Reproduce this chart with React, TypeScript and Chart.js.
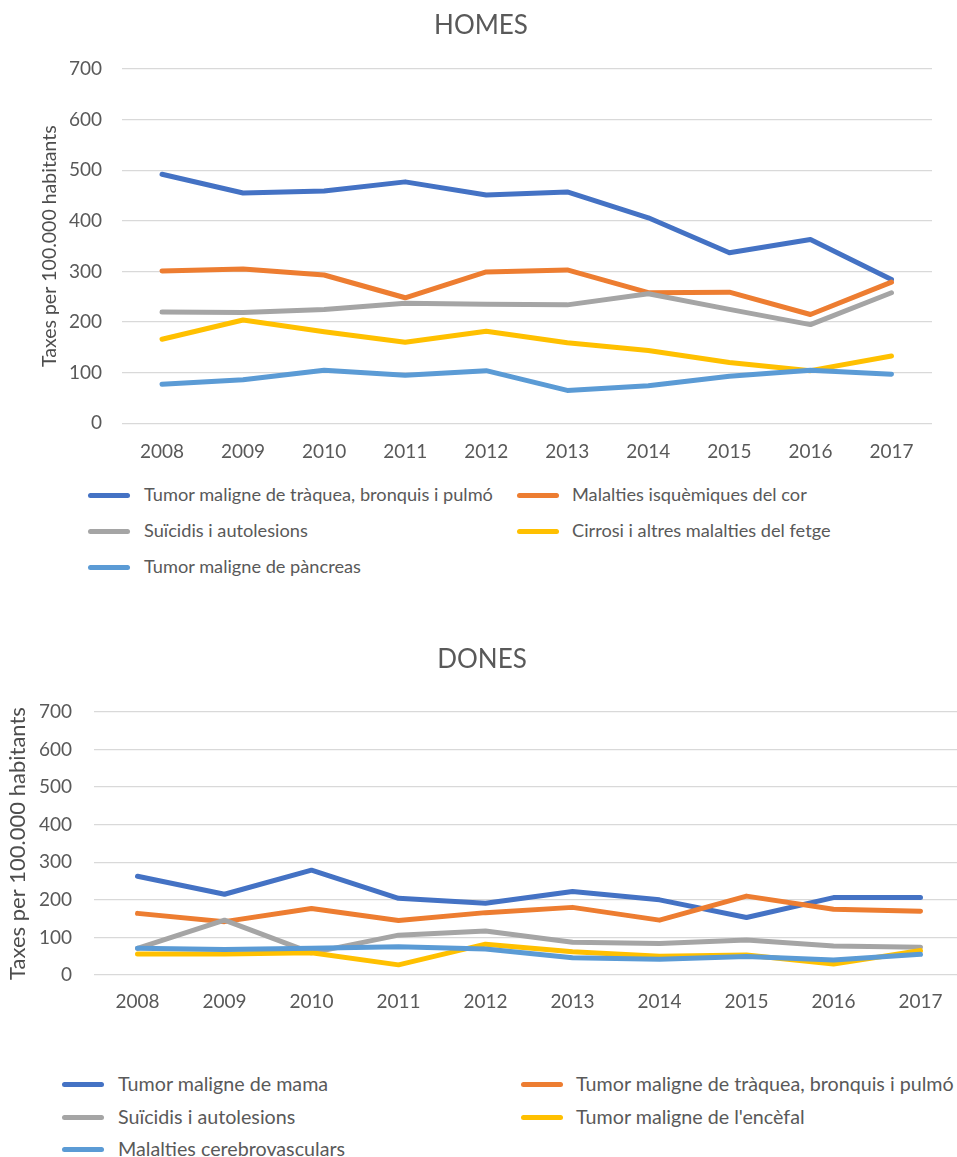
import { useEffect, useRef } from 'react';
import { Chart, registerables } from 'chart.js';

Chart.register(...registerables);

// Categories and axis
const years = ['2008', '2009', '2010', '2011', '2012', '2013', '2014', '2015', '2016', '2017'];
const yMin = 0;
const yMax = 700;
const yStep = 100;
const axisTitle = 'Taxes per 100.000 habitants';

const seriesColors = ['#4472C4', '#ED7D31', '#A5A5A5', '#FFC000', '#5B9BD5'];

// HOMES
const homesTitle = 'HOMES';
const homesLabels = [
  'Tumor maligne de tràquea, bronquis i pulmó',
  'Malalties isquèmiques del cor',
  'Suïcidis i autolesions',
  'Cirrosi i altres malalties del fetge',
  'Tumor maligne de pàncreas',
];
const homesPulmo = [492, 455, 459, 477, 451, 457, 406, 337, 363, 284];
const homesCor = [301, 305, 293, 248, 299, 303, 258, 259, 215, 279];
const homesSuicidis = [220, 219, 225, 237, 235, 234, 256, 225, 195, 258];
const homesCirrosi = [166, 204, 181, 160, 182, 159, 144, 120, 104, 133];
const homesPancrees = [77, 86, 105, 95, 104, 65, 74, 93, 105, 97];

// DONES
const donesTitle = 'DONES';
const donesLabels = [
  'Tumor maligne de mama',
  'Tumor maligne de tràquea, bronquis i pulmó',
  'Suïcidis i autolesions',
  "Tumor maligne de l'encèfal",
  'Malalties cerebrovasculars',
];
const donesMama = [263, 215, 279, 204, 191, 222, 200, 153, 206, 206];
const donesPulmo = [164, 142, 177, 145, 166, 180, 146, 210, 175, 170];
const donesSuicidis = [71, 146, 59, 106, 117, 87, 84, 93, 77, 74];
const donesEncefal = [56, 56, 59, 27, 82, 62, 50, 53, 29, 65];
const donesCerebro = [71, 68, 71, 75, 69, 46, 42, 49, 40, 55];

const FONT = 'Lato, "Open Sans", "DejaVu Sans", sans-serif';
const TEXT = '#595959';
const AXIS_TITLE = '#4d4d4d';
const GRID = '#D9D9D9';

type Frame = {
  left: number;
  top: number;
  width: number;
  height: number;
  titleSize: number;
  titlePadTop: number;
  titlePadBottom: number;
  padLeft: number;
  padRight: number;
  yWidth: number;
  xHeight: number;
  yTickPad: number;
  xTickPad: number;
  tickSize: number;
  axisTitleSize: number;
  axisTitlePad: number;
};

type LegendFrame = {
  rows: number[];
  markerX: number[];
  textX: number[];
  markerW: number;
  fontSize: number;
};

type PanelProps = {
  title: string;
  labels: string[];
  values: number[][];
  frame: Frame;
  legend: LegendFrame;
};

const LINE_W = 5;

function Panel({ title, labels, values, frame, legend }: PanelProps) {
  const ref = useRef<HTMLCanvasElement | null>(null);

  useEffect(() => {
    if (!ref.current) return;
    const n = values.length;
    const chart = new Chart(ref.current, {
      type: 'line',
      data: {
        labels: years,
        datasets: values.map((v, i) => ({
          label: labels[i],
          data: v,
          borderColor: seriesColors[i],
          backgroundColor: seriesColors[i],
          borderWidth: LINE_W,
          borderCapStyle: 'round',
          borderJoinStyle: 'round',
          pointRadius: 0,
          pointHoverRadius: 0,
          tension: 0,
          fill: false,
          // later series are painted on top of earlier ones
          order: n - i,
        })),
      },
      options: {
        animation: false,
        responsive: false,
        devicePixelRatio: 1,
        layout: { padding: { left: frame.padLeft, right: frame.padRight, top: 0, bottom: 0 } },
        plugins: {
          legend: { display: false },
          tooltip: { enabled: false },
          title: {
            display: true,
            text: title,
            color: TEXT,
            font: { family: FONT, size: frame.titleSize, weight: 'normal' },
            padding: { top: frame.titlePadTop, bottom: frame.titlePadBottom },
          },
        },
        scales: {
          x: {
            offset: true,
            grid: { display: false, drawTicks: false },
            border: { display: false },
            ticks: {
              color: TEXT,
              padding: frame.xTickPad,
              font: { family: FONT, size: frame.tickSize },
              maxRotation: 0,
              autoSkip: false,
            },
            afterFit: (scale: any) => {
              scale.height = frame.xHeight;
            },
          },
          y: {
            min: yMin,
            max: yMax,
            grid: { color: GRID, lineWidth: 1.3, drawTicks: false },
            border: { display: false },
            ticks: {
              stepSize: yStep,
              color: TEXT,
              padding: frame.yTickPad,
              font: { family: FONT, size: frame.tickSize },
            },
            title: {
              display: true,
              text: axisTitle,
              color: AXIS_TITLE,
              font: { family: FONT, size: frame.axisTitleSize },
              padding: { top: frame.axisTitlePad, bottom: 0 },
            },
            afterFit: (scale: any) => {
              scale.width = frame.yWidth;
            },
          },
        },
      },
    });
    return () => chart.destroy();
  }, [title, labels, values, frame]);

  return (
    <>
      <canvas
        ref={ref}
        width={frame.width}
        height={frame.height}
        style={{
          position: 'absolute',
          left: frame.left,
          top: frame.top,
          width: frame.width,
          height: frame.height,
        }}
      />
      {labels.map((label, i) => {
        const row = Math.floor(i / 2);
        const col = i % 2;
        const cy = legend.rows[row];
        const lh = legend.fontSize * 1.3;
        return (
          <div key={label}>
            <div
              style={{
                position: 'absolute',
                left: legend.markerX[col],
                top: cy - LINE_W / 2,
                width: legend.markerW,
                height: LINE_W,
                borderRadius: LINE_W / 2,
                background: seriesColors[i],
              }}
            />
            <div
              style={{
                position: 'absolute',
                left: legend.textX[col],
                top: cy - lh / 2,
                height: lh,
                lineHeight: `${lh}px`,
                fontFamily: FONT,
                fontSize: legend.fontSize,
                color: TEXT,
                whiteSpace: 'nowrap',
              }}
            >
              {label}
            </div>
          </div>
        );
      })}
    </>
  );
}

const homesFrame: Frame = {
  left: 0,
  top: 0,
  width: 957,
  height: 480,
  titleSize: 26,
  titlePadTop: 10,
  titlePadBottom: 27.8,
  padLeft: 30,
  padRight: 25,
  yWidth: 91.5,
  xHeight: 56.7,
  yTickPad: 19.5,
  xTickPad: 17,
  tickSize: 19,
  axisTitleSize: 19.5,
  axisTitlePad: 8.3,
};

const homesLegend: LegendFrame = {
  rows: [495, 531, 567],
  markerX: [88, 517],
  textX: [144, 572],
  markerW: 42,
  fontSize: 18.2,
};

const donesFrame: Frame = {
  left: 0,
  top: 600,
  width: 965,
  height: 420,
  titleSize: 26,
  titlePadTop: 44.4,
  titlePadBottom: 36.4,
  padLeft: 0,
  padRight: 1,
  yWidth: 94,
  xHeight: 45,
  yTickPad: 22,
  xTickPad: 15,
  tickSize: 19,
  axisTitleSize: 22,
  axisTitlePad: 5,
};

const donesLegend: LegendFrame = {
  rows: [1084, 1117, 1149],
  markerX: [62, 521],
  textX: [118, 576],
  markerW: 42,
  fontSize: 19.7,
};

const homesValues = [homesPulmo, homesCor, homesSuicidis, homesCirrosi, homesPancrees];
const donesValues = [donesMama, donesPulmo, donesSuicidis, donesEncefal, donesCerebro];

export default function App() {
  return (
    <div
      style={{
        position: 'absolute',
        left: 0,
        top: 0,
        width: 957,
        height: 1157,
        overflow: 'hidden',
        background: '#ffffff',
      }}
    >
      <Panel title={homesTitle} labels={homesLabels} values={homesValues} frame={homesFrame} legend={homesLegend} />
      <Panel title={donesTitle} labels={donesLabels} values={donesValues} frame={donesFrame} legend={donesLegend} />
    </div>
  );
}
